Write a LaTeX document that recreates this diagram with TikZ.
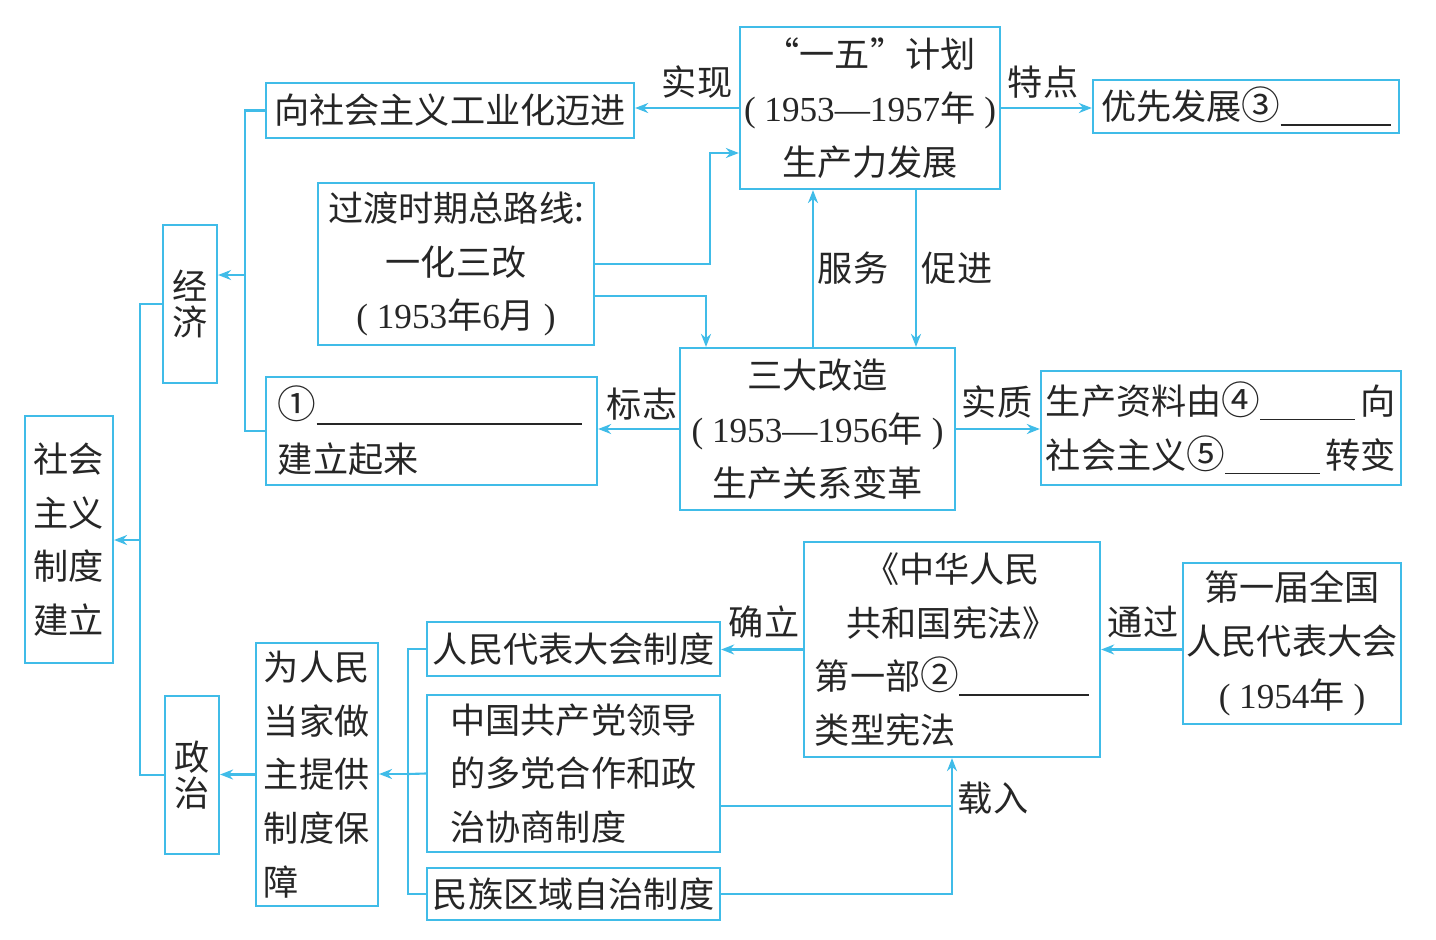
\documentclass[tikz,border=0pt]{standalone}
\usepackage{fontspec}
\setmainfont{Noto Sans CJK SC}
\newfontfamily\numf{Liberation Serif}
\usetikzlibrary{arrows.meta}
\definecolor{lineblue}{RGB}{64,188,232}
\newcommand{\blankrule}[1]{\rule[-0.6mm]{#1}{0.45pt}}
\newcommand{\yr}[1]{{\numf #1}}
\newcommand{\cnum}[1]{{\fontsize{11pt}{15.3pt}\selectfont #1}}

\begin{document}
\begin{tikzpicture}[x=0.01cm, y=-0.01cm,
	font=\fontsize{10pt}{15.3pt}\selectfont,
	box/.style = {draw=lineblue, line width=0.6pt, inner sep=0pt,
		text=black!85, align=center},
	lbox/.style = {box, align=left},
	vbox/.style = {box, font=\fontsize{10pt}{10.4pt}\selectfont},
	link/.style = {draw=lineblue, line width=0.6pt},
	arr/.style = {link, -{Stealth[length=1.3mm, width=1mm]}},
	tag/.style = {inner sep=0pt, text=black!85}]

	\useasboundingbox (0,0) rectangle (1436,939);

	% left side
	\node[box, minimum width=8.8mm, minimum height=24.7mm] (root) at (69,539.5) {社会\\主义\\制度\\建立};
	\node[vbox, minimum width=5.4mm, minimum height=15.8mm] (jingji) at (190,304) {经\\济};
	\node[vbox, minimum width=5.4mm, minimum height=15.8mm] (zhengzhi) at (192,775) {政\\治};

	% economy
	\node[box, minimum width=36.8mm, minimum height=5.5mm] (gyh) at (450,110.5) {向社会主义工业化迈进};
	\node[box, minimum width=27.6mm, minimum height=16.2mm] (guodu) at (456,264) {过渡时期总路线:\\一化三改\\\yr{( 1953}年\yr{6}月\yr{ )}};
	\node[lbox, text width=30.7mm, inner xsep=1.2mm, minimum height=10.8mm] (yi) at (431.5,431) {\cnum{①}\blankrule{26.5mm}\\建立起来};
	\node[box, minimum width=26mm, minimum height=16.2mm] (yiwu) at (870,108) {“一五”计划\\\yr{( 1953—1957}年\yr{ )}\\生产力发展};
	\node[box, minimum width=30.6mm, minimum height=5.3mm] (youxian) at (1246,106.5) {优先发展\cnum{③}\blankrule{11mm}};
	\node[box, minimum width=27.5mm, minimum height=16.2mm] (sanda) at (817.5,429) {三大改造\\\yr{( 1953—1956}年\yr{ )}\\生产关系变革};
	\node[lbox, text width=35mm, inner xsep=0.5mm, minimum height=11.4mm] (ziliao) at (1221,428) {生产资料由\cnum{④}\blankrule{9.5mm}\hfill 向\\社会主义\cnum{⑤}\blankrule{9.5mm}\hfill 转变};

	% politics
	\node[lbox, text width=10.6mm, inner xsep=0.8mm, minimum height=26.3mm] (weimin) at (317,774.5) {为人民\\当家做\\主提供\\制度保\\障};
	\node[box, minimum width=29.3mm, minimum height=5.4mm] (renda) at (573.5,649) {人民代表大会制度};
	\node[lbox, text width=24.6mm, inner xsep=2.35mm, minimum height=15.7mm] (zhonggong) at (573.5,773.5) {中国共产党领导\\的多党合作和政\\治协商制度};
	\node[box, minimum width=29.3mm, minimum height=5.2mm] (minzu) at (573.5,894) {民族区域自治制度};
	\node[lbox, text width=27.4mm, inner xsep=1.1mm, minimum height=21.5mm] (xianfa) at (952,649.5) {\makebox[\linewidth]{《中华人民}\\\makebox[\linewidth]{共和国宪法》}\\第一部\cnum{②}\blankrule{13mm}\\类型宪法};
	\node[box, minimum width=21.8mm, minimum height=16.1mm] (diyi) at (1292,643.5) {第一届全国\\人民代表大会\\\yr{( 1954}年\yr{ )}};

	% labels
	\node[tag] (shixian) at (697,82) {实现};
	\node[tag] (tedian) at (1043,82) {特点};
	\node[tag] (fuwu) at (853,268) {服务};
	\node[tag] (cujin) at (957,268) {促进};
	\node[tag] (biaozhi) at (642,404) {标志};
	\node[tag] (shizhi) at (997,402) {实质};
	\node[tag] (queli) at (764,622) {确立};
	\node[tag] (tongguo) at (1143,622) {通过};
	\node[tag] (zairu) at (993,798) {载入};

	\coordinate (rt) at (140,540);
	\coordinate (eb) at (245,275);
	\coordinate (pb) at (408,774);
	\coordinate (g1) at (710,153);
	\coordinate (g2) at (706,296);
	\coordinate (fw) at (813,268);
	\coordinate (cj) at (916,268);
	\coordinate (zr) at (952,806);

	\draw[link] (jingji.west) -| (rt) |- (zhengzhi.west);
	\draw[arr] (rt) -- (rt -| root.east);
	\draw[link] (gyh.west) -| (eb) |- (yi.west);
	\draw[arr] (eb) -- (eb -| jingji.east);

	\draw[arr] (yiwu.west) -- (yiwu.west -| gyh.east);
	\draw[arr] (yiwu.east) -- (yiwu.east -| youxian.west);
	\draw[arr] (guodu.east) -| (g1) -- (g1 -| yiwu.west);
	\draw[arr] (g2 -| guodu.east) -- (g2) -- (g2 |- sanda.north);
	\draw[arr] (fw |- sanda.north) -- (fw |- yiwu.south);
	\draw[arr] (cj |- yiwu.south) -- (cj |- sanda.north);
	\draw[arr] (sanda.west) -- (sanda.west -| yi.east);
	\draw[arr] (sanda.east) -- (sanda.east -| ziliao.west);

	\draw[arr] (weimin.west) -- (weimin.west -| zhengzhi.east);
	\draw[link] (renda.west) -| (pb) |- (minzu.west);
	\draw[link] (zhonggong.west) -- (pb);
	\draw[arr] (pb) -- (pb -| weimin.east);
	\draw[arr] (xianfa.west) -- (xianfa.west -| renda.east);
	\draw[arr] (xianfa.east -| diyi.west) -- (xianfa.east);
	\draw[link] (zhonggong.east |- zr) -- (zr);
	\draw[arr] (minzu.east) -| (xianfa.south);

\end{tikzpicture}
\end{document}
